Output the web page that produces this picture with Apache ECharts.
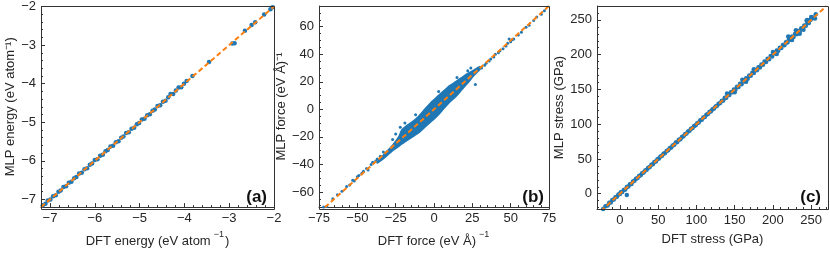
<!DOCTYPE html>
<html><head><meta charset="utf-8">
<script src="https://cdn.jsdelivr.net/npm/echarts@6/dist/echarts.min.js"></script>
<style>html,body{margin:0;padding:0;background:#fff}#c{width:830px;height:253px}</style>
</head><body><div id="c"></div>
<script>
// ---------- Panel (a): energy ----------
const energyRange = [-7.2, -2];
const energyMajor = [-7, -6, -5, -4, -3, -2];
const energyMinor = [-6.8, -6.6, -6.4, -6.2, -5.8, -5.6, -5.4, -5.2, -4.8, -4.6, -4.4, -4.2, -3.8, -3.6, -3.4, -3.2, -2.8, -2.6, -2.4, -2.2];
const energyPoints = [
  [-7.16,-7.15],[-7.10,-7.11],[-7.05,-7.03],[-6.99,-7.00],[-6.93,-6.92],[-6.87,-6.89],[-6.81,-6.80],[-6.76,-6.77],
  [-6.70,-6.68],[-6.64,-6.66],[-6.58,-6.57],[-6.52,-6.54],[-6.46,-6.45],[-6.41,-6.42],[-6.35,-6.33],[-6.29,-6.31],
  [-6.23,-6.22],[-6.17,-6.19],[-6.11,-6.10],[-6.06,-6.07],[-6.00,-5.98],[-5.94,-5.96],[-5.88,-5.87],[-5.82,-5.84],
  [-5.76,-5.75],[-5.71,-5.72],[-5.65,-5.63],[-5.59,-5.61],[-5.53,-5.52],[-5.47,-5.49],[-5.41,-5.40],[-5.36,-5.37],
  [-5.30,-5.28],[-5.24,-5.26],[-5.18,-5.17],[-5.12,-5.14],[-5.06,-5.05],[-5.01,-5.02],[-4.95,-4.93],[-4.89,-4.91],
  [-4.83,-4.82],[-4.77,-4.79],[-4.71,-4.70],[-4.66,-4.67],[-4.60,-4.58],[-4.54,-4.56],[-4.48,-4.47],[-4.42,-4.44],
  [-4.36,-4.35],[-4.31,-4.27],[-4.25,-4.27],[-4.19,-4.18],[-4.13,-4.10],[-4.07,-4.09],[-4.01,-4.00],[-3.95,-3.93],
  [-3.82,-3.80],[-3.45,-3.44],[-2.93,-2.96],[-2.88,-2.95],[-2.65,-2.63],[-2.50,-2.48],[-2.42,-2.41],[-2.22,-2.21],
  [-2.08,-2.07],[-2.03,-2.02]
];
const energyDiag = [[-7.2,-7.2],[-2,-2]];

// ---------- Panel (b): force ----------
const forceXRange = [-75, 75];
const forceYRange = [-71, 75];
const forceXMajor = [-75, -50, -25, 0, 25, 50, 75];
const forceXMinor = [-70,-65,-60,-55,-45,-40,-35,-30,-20,-15,-10,-5,5,10,15,20,30,35,40,45,55,60,65,70];
const forceYMajor = [-60, -40, -20, 0, 20, 40, 60];
const forceYMinor = [-70,-65,-55,-50,-45,-35,-30,-25,-15,-10,-5,5,10,15,25,30,35,45,50,55,65,70];
const forceCloud = [
  [-37,-38],[-32,-32],[-27,-26],[-23,-20],[-21,-15],[-18,-12],[-14,-9],[-10,-5],[-6,0],[-2,5],[2,9],[6,13],
  [10,17],[14,20],[18,23],[22,26],[26,28.5],[30,31],
  [30,29],[26,24.5],[22,19],[18,14],[14,9],[10,5],[6,0],[2,-5],[-2,-9],[-6,-13],[-10,-17],[-14,-20],[-18,-23],
  [-22,-26],[-27,-30],[-32,-35],[-37,-39]
];
const forcePoints = [
  [-72,-71],[-70,-70.5],[-66,-65],[-63,-62],[-60,-59.5],[-57,-56],[-55,-55],[-53,-51.5],[-52,-52],[-50,-49],
  [-49,-48],[-47,-46.5],[-46,-45],[-44,-43],[-43,-44],[-41,-40],[-40,-38.5],[-38,-37.5],[-37,-36],[-35,-34],
  [-34,-35],[-33,-31],[-31,-32],
  [-25,-18],[-27,-22],[-22,-13],[-19,-10],[-12,-4],[3,13],[15,23],[22,28],[27,18],[24,30],
  [31,30],[33,32],[34,33.5],[36,35],[37,36.5],[39,38],[40,40],[42,41],[43,42.5],[45,44],[47,46],[48,48],
  [50,49],[51,50.5],[49,51],[52,51],[55,54],[57,56],[60,59.5],[62,61],[65,64.5],[67,67],[70,69],[72,71.5]
];
const forceDiag = [[-75,-75],[75,75]];

// ---------- Panel (c): stress ----------
const stressXRange = [-30, 272];
const stressYRange = [-22, 270];
const stressMajor = [0, 50, 100, 150, 200, 250];
const stressXMinor = [-20,-10,10,20,30,40,60,70,80,90,110,120,130,140,160,170,180,190,210,220,230,240,260,270];
const stressYMinor = [-20,-10,10,20,30,40,60,70,80,90,110,120,130,140,160,170,180,190,210,220,230,240,260];
const stressPoints = [
  [-22,-22],[-19,-18],[-16,-17],[-14,-13],[-12,-12.5],[-10,-9],[-8,-8.5],[-6,-5],[-4,-4.5],[-2,-1],[0,-0.5],[1,2],
  [3,2.5],[5,5.5],[7,6],[9,-2],[9,9.5],[11,10.5],[13,13.5],[15,14],[17,17.5],[19,18.5],[21,21.5],[23,22.5],
  [25,25.5],[27,26.5],[29,29.5],[31,30.5],[33,33.5],[35,34.5],[37,37.5],[39,38.5],[41,41.5],[43,42.5],[45,45.5],
  [47,46.5],[49,49.5],[51,50.5],[53,53.5],[55,54.5],[57,57.5],[59,58.5],[61,61.5],[63,62.5],[65,65.5],[67,66.5],
  [69,69.5],[71,70.5],[73,73.5],[75,74.5],[77,77.5],[79,78.5],[81,81.5],[83,82.5],[85,85.5],[87,86.5],[89,89.5],
  [91,90.5],[93,93.5],[95,94.5],[97,97.5],[99,98.5],[101,101.5],[103,102.5],[105,105.5],[107,106.5],[109,109.5],
  [111,110.5],[113,113.5],[115,114.5],[117,117.5],[119,118.5],[121,121.5],[123,122.5],[125,125.5],[127,126.5],
  [129,129.5],[131,130.5],[133,133.5],[135,134],[137,138],[139,138],[141,142],[143,142],[145,146],[147,146],
  [149,150],[151,149.5],[153,154],[155,153.5],[157,158],[159,157.5],[161,162],[163,161.5],[165,166],[167,165.5],
  [169,170],[171,169.5],[173,174],[175,173.5],[177,178],[179,177.5],[181,182],[183,181.5],[185,186],[187,185.5],
  [189,190],[191,189.5],[193,194],[195,193.5],[197,198],[199,197.5],[201,202],[203,201.5],[205,206],[207,205.5],
  [209,210],[211,209.5],[213,214],[215,213.5],[217,218],[219,217.5],[221,222],[223,221.5],[225,226],[227,225.5],
  [229,230],[231,229.5],[233,234],[235,233.5],[237,238],[239,237.5],[241,242],[243,241.5],[245,246],[247,245.5],
  [249,250],[251,252],[253,253.5],[256,258],
  [140,144],[150,146],[160,164],[165,161],[175,179],[200,204],[205,201],[220,226],[225,221],[230,235],[235,230],
  [240,236],[245,250],[250,254],[255,252],[244,249]
];
const stressDiag = [[-25,-25],[270,270]];

// ---------- Labels ----------
const panelLetters = ['(a)', '(b)', '(c)'];
const xNames = ['{n|DFT energy (eV atom}{s|−1}{n|)}', '{n|DFT force (eV Å)}{s|−1}', '{n|DFT stress (GPa)}'];
const yNames = ['MLP energy (eV atom⁻¹)', 'MLP force (eV Å)⁻¹', 'MLP stress (GPa)'];

const FONT = 'Liberation Sans';
const BLUE = '#1f77b4', ORANGE = '#ff7f0e', AX = '#333333', TXT = '#262626';
const fmt = v => String(v).replace('-', '−');
const nameStyle = {
  fontFamily: FONT, color: TXT, fontSize: 13,
  rich: {
    n: {fontFamily: FONT, fontSize: 13, color: TXT, lineHeight: 18, verticalAlign: 'bottom'},
    s: {fontFamily: FONT, fontSize: 9, color: TXT, lineHeight: 9, verticalAlign: 'top', padding: [0, 1, 0, 3]}
  }
};
const yNameStyle = {fontFamily: FONT, color: TXT, fontSize: 13};

const grids = [
  {left: 41, top: 6, width: 233, height: 203},
  {left: 319, top: 6, width: 230, height: 203},
  {left: 597, top: 6, width: 231, height: 203}
];
const panels = [
  {xr: energyRange, yr: energyRange, xM: energyMajor, xm: energyMinor, yM: energyMajor, ym: energyMinor, yGap: 21},
  {xr: forceXRange, yr: forceYRange, xM: forceXMajor, xm: forceXMinor, yM: forceYMajor, ym: forceYMinor, yGap: 25},
  {xr: stressXRange, yr: stressYRange, xM: stressMajor, xm: stressXMinor, yM: stressMajor, ym: stressYMinor, yGap: 29}
];

const xAxis = [], yAxis = [];
panels.forEach((p, i) => {
  xAxis.push({
    type: 'value', gridIndex: i, min: p.xr[0], max: p.xr[1], position: 'bottom',
    axisLine: {show: true, onZero: false, lineStyle: {color: AX, width: 1}},
    axisTick: {show: true, inside: true, length: 4, customValues: p.xM, lineStyle: {color: AX, width: 1}},
    axisLabel: {customValues: p.xM, formatter: fmt, color: TXT, fontSize: 13, fontFamily: FONT, margin: 5},
    splitLine: {show: false},
    name: xNames[i], nameLocation: 'middle', nameGap: 19, nameTextStyle: nameStyle
  });
  xAxis.push({
    type: 'value', gridIndex: i, min: p.xr[0], max: p.xr[1], position: 'bottom',
    axisLine: {show: false, onZero: false},
    axisTick: {show: true, inside: true, length: 2, customValues: p.xm, lineStyle: {color: AX, width: 1}},
    axisLabel: {show: false}, splitLine: {show: false}
  });
  yAxis.push({
    type: 'value', gridIndex: i, min: p.yr[0], max: p.yr[1], position: 'left',
    axisLine: {show: true, onZero: false, lineStyle: {color: AX, width: 1}},
    axisTick: {show: true, inside: true, length: 4, customValues: p.yM, lineStyle: {color: AX, width: 1}},
    axisLabel: {customValues: p.yM, formatter: fmt, color: TXT, fontSize: 13, fontFamily: FONT, margin: 5},
    splitLine: {show: false},
    name: yNames[i], nameLocation: 'middle', nameGap: p.yGap, nameTextStyle: yNameStyle
  });
  yAxis.push({
    type: 'value', gridIndex: i, min: p.yr[0], max: p.yr[1], position: 'left',
    axisLine: {show: false, onZero: false},
    axisTick: {show: true, inside: true, length: 2, customValues: p.ym, lineStyle: {color: AX, width: 1}},
    axisLabel: {show: false}, splitLine: {show: false}
  });
});

const pointSets = [energyPoints, forcePoints, stressPoints];
const pointSizes = [4.5, 3, 4.5];
const diags = [energyDiag, forceDiag, stressDiag];
const series = [];
pointSets.forEach((pts, i) => {
  if (i === 1) {
    series.push({
      type: 'custom', xAxisIndex: 2, yAxisIndex: 2, data: [0], z: 2, clip: true,
      renderItem: (params, api) => ({
        type: 'polygon',
        shape: {points: forceCloud.map(p => api.coord(p)), smooth: 0.2},
        style: {fill: BLUE, stroke: BLUE, lineWidth: 1.5}
      })
    });
  }
  series.push({
    type: 'scatter', xAxisIndex: 2 * i, yAxisIndex: 2 * i, data: pts,
    symbol: 'circle', symbolSize: pointSizes[i], itemStyle: {color: BLUE, opacity: 1}, z: 3, silent: true
  });
  series.push({
    type: 'line', xAxisIndex: 2 * i, yAxisIndex: 2 * i, data: diags[i], symbol: 'none', clip: true,
    lineStyle: {color: ORANGE, width: 2, type: [5, 3]}, z: 5, silent: true
  });
});

const letterPos = [[267, 197], [544, 197], [821, 197]];
const graphic = panelLetters.map((t, i) => ({
  type: 'text', x: letterPos[i][0], y: letterPos[i][1], z: 10,
  style: {text: t, font: 'bold 17px "Liberation Sans"', fill: '#111', textAlign: 'right', textVerticalAlign: 'middle'}
}));
grids.forEach(g => graphic.push({
  type: 'rect', z: 8, silent: true,
  shape: {x: g.left + 0.5, y: g.top + 0.5, width: g.width, height: g.height},
  style: {fill: 'none', stroke: AX, lineWidth: 1}
}));

const chart = echarts.init(document.getElementById('c'));
chart.setOption({
  animation: false,
  backgroundColor: '#fff',
  grid: grids,
  xAxis: xAxis, yAxis: yAxis,
  series: series,
  graphic: graphic
});
</script></body></html>
